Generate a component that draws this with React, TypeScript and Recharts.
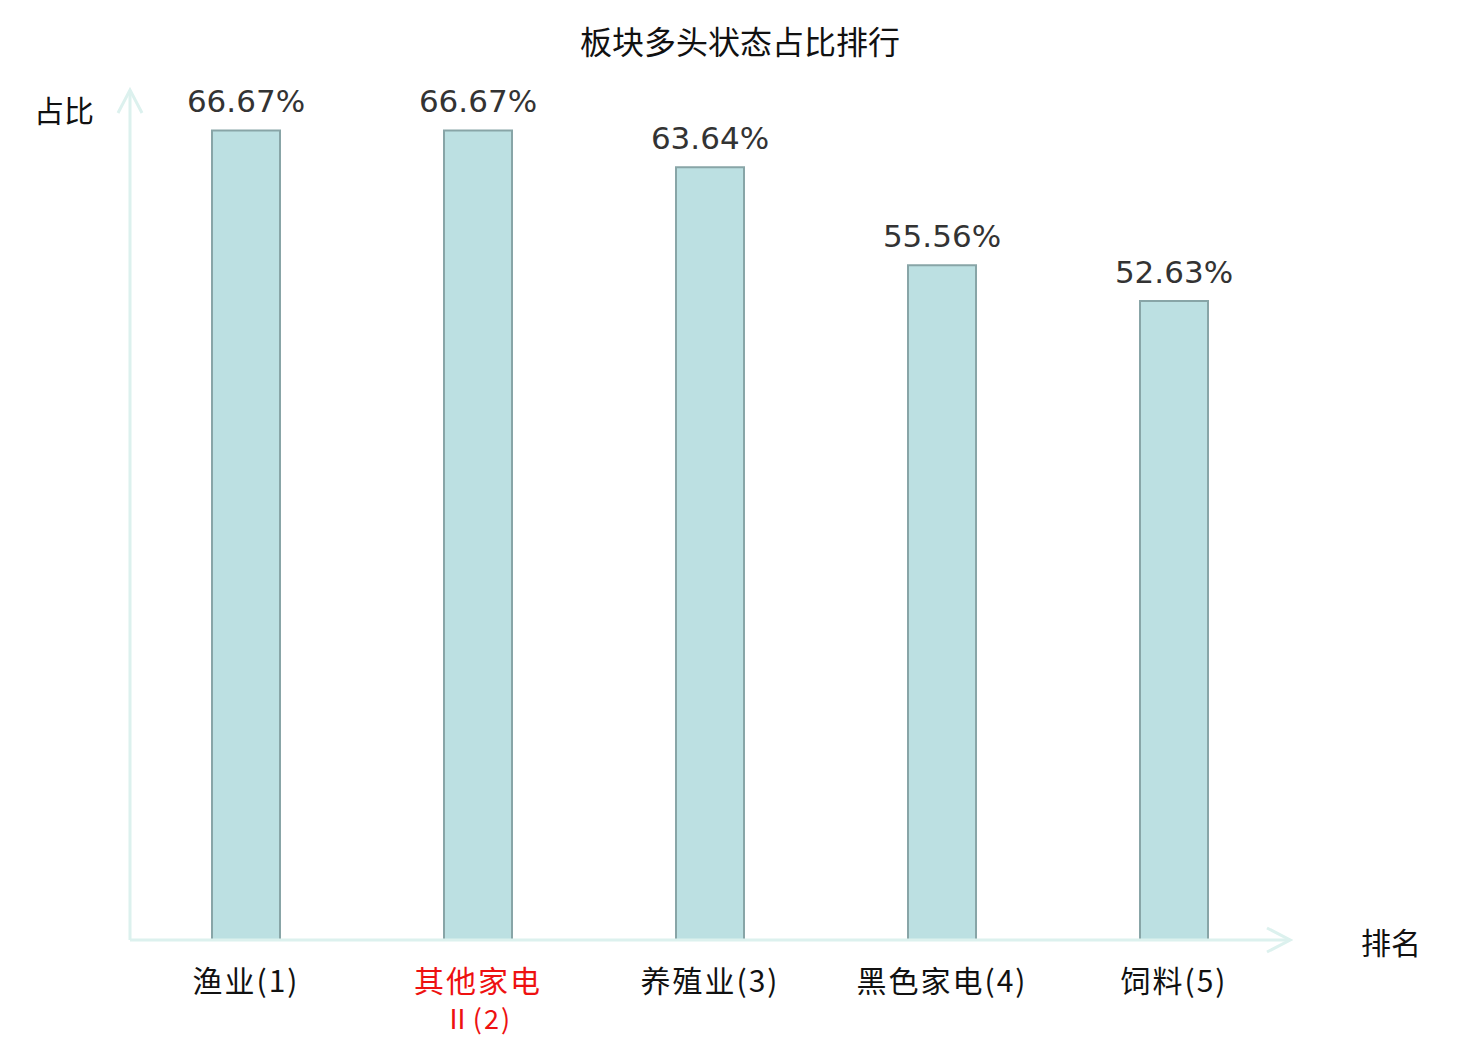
import { BarChart, Bar, XAxis, YAxis, LabelList } from "recharts";

// sector names, ranks and bullish ratios (%)
const sectors = ["渔业", "其他家电\nⅡ", "养殖业", "黑色家电", "饲料"];
const ranks = [1, 2, 3, 4, 5];
const ratios = [66.67, 66.67, 63.64, 55.56, 52.63];
const highlighted = [false, true, false, false, false];

const data = sectors.map((s, i) => ({
  name: `${s}(${ranks[i]})`,
  ratio: ratios[i],
}));

const AXIS_COLOR = "#dcf1ee";
const CJK = "'Noto Sans CJK SC', 'DejaVu Sans', sans-serif";

function SectorTick(props: any) {
  const { x, y, payload, index } = props;
  const lines = String(payload.value).split("\n");
  const color = highlighted[index] ? "#ee1111" : "#111111";
  return (
    <g>
      {lines.map((line, i) => (
        <text
          key={i}
          x={x}
          y={y + 52 + i * 37}
          textAnchor="middle"
          fill={color}
          fontSize={i === 0 ? 30 : 27}
          letterSpacing={2}
          fontFamily={CJK}
        >
          {line}
        </text>
      ))}
    </g>
  );
}

export default function App() {
  return (
    <div
      style={{
        position: "absolute",
        left: 0,
        top: 0,
        width: 1480,
        height: 1040,
        background: "#fff",
      }}
    >
      <svg width={0} height={0} style={{ position: "absolute" }}>
        <defs>
          <marker
            id="axisArrow"
            markerUnits="userSpaceOnUse"
            markerWidth={28}
            markerHeight={30}
            viewBox="0 0 28 30"
            refX={25}
            refY={15}
            orient="auto-start-reverse"
          >
            <path
              d="M2,3 L25,15 L2,27"
              fill="none"
              stroke={AXIS_COLOR}
              strokeWidth={3}
            />
          </marker>
        </defs>
      </svg>
      <div
        style={{
          position: "absolute",
          left: 0,
          width: 1480,
          top: 20,
          textAlign: "center",
          fontFamily: CJK,
          fontSize: 32,
          color: "#111",
          lineHeight: "40px",
        }}
      >
        板块多头状态占比排行
      </div>
      <div
        style={{
          position: "absolute",
          left: 34,
          top: 89,
          fontFamily: CJK,
          fontSize: 30,
          color: "#111",
          lineHeight: "40px",
        }}
      >
        占比
      </div>
      <div
        style={{
          position: "absolute",
          left: 1361,
          top: 921,
          fontFamily: CJK,
          fontSize: 30,
          color: "#111",
          lineHeight: "40px",
        }}
      >
        排名
      </div>
      <BarChart
        width={1480}
        height={1040}
        data={data}
        margin={{ top: 90, right: 190, bottom: 40, left: 129 }}
      >
        <XAxis
          dataKey="name"
          height={60}
          tickLine={false}
          tickSize={0}
          tickMargin={0}
          interval={0}
          tick={<SectorTick />}
          axisLine={{ stroke: AXIS_COLOR, strokeWidth: 3, markerEnd: "url(#axisArrow)" }}
        />
        <YAxis
          width={1}
          domain={[0, 70]}
          tick={false}
          tickLine={false}
          axisLine={{ stroke: AXIS_COLOR, strokeWidth: 3, markerStart: "url(#axisArrow)" }}
        />
        <Bar
          dataKey="ratio"
          barSize={68}
          fill="#bce0e2"
          stroke="#88a5a7"
          strokeWidth={2}
          isAnimationActive={false}
        >
          <LabelList
            dataKey="ratio"
            position="top"
            offset={18}
            fill="#333333"
            fontSize={31}
            fontFamily="'DejaVu Sans', sans-serif"
            formatter={(v: any) => `${Number(v).toFixed(2)}%`}
          />
        </Bar>
      </BarChart>
    </div>
  );
}
